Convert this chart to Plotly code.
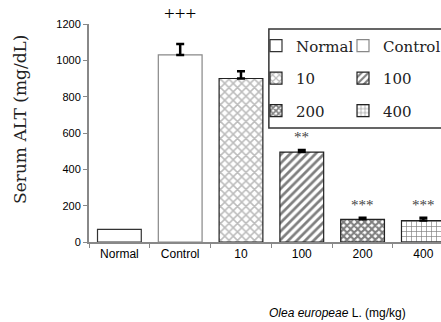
import plotly.graph_objects as go

categories = ["Normal", "Control", "10", "100", "200", "400"]
values = [70, 1030, 900, 495, 125, 118]
errors = [0, 60, 40, 12, 8, 15]
labels_sig = ["", "+++", "", "**", "***", "***"]
legend_ids = ["legend", "legend2", "legend", "legend2", "legend", "legend2"]

patterns = [
    dict(shape="", bgcolor="white"),
    dict(shape="", bgcolor="white"),
    dict(shape="x", fgcolor="#7a7a7a", bgcolor="white", size=6, solidity=0.45),
    dict(shape="/", fgcolor="black", bgcolor="white", size=6, solidity=0.45),
    dict(shape="x", fgcolor="black", bgcolor="white", size=5, solidity=0.65),
    dict(shape="+", fgcolor="black", bgcolor="white", size=5, solidity=0.25),
]
line_colors = ["#333333", "#888888", "#222222", "#222222", "#222222", "#222222"]

fig = go.Figure()
for i, c in enumerate(categories):
    fig.add_trace(go.Bar(
        x=[c], y=[values[i]], name=c, width=0.72,
        legend=legend_ids[i], legendgroup=c,
        marker=dict(color="white", pattern=patterns[i],
                    line=dict(color=line_colors[i], width=1.2)),
        error_y=dict(type="data", symmetric=False, array=[errors[i]], arrayminus=[0],
                     color="black", thickness=2.5, width=4, visible=errors[i] > 0),
        showlegend=True,
    ))

for i, c in enumerate(categories):
    if labels_sig[i]:
        plus = labels_sig[i] == "+++"
        fig.add_annotation(x=i, y=values[i] + errors[i], text=labels_sig[i], showarrow=False,
                           yanchor="bottom", yshift=18 if plus else 3,
                           font=dict(family="Liberation Serif",
                                     size=19 if plus else 15,
                                     color="black" if plus else "#444"))

fig.add_annotation(xref="paper", yref="paper", x=0.705, y=-0.326, xanchor="center", yanchor="middle",
                   text="<i>Olea europeae</i> L. (mg/kg)", showarrow=False,
                   font=dict(family="Liberation Sans", size=12, color="black"))

fig.add_annotation(xref="paper", yref="paper", x=-0.196, y=0.56, xanchor="center", yanchor="middle",
                   text="Serum ALT (mg/dL)", textangle=-90, showarrow=False,
                   font=dict(family="DejaVu Serif", size=17, color="#222"))

# legend frame
fig.add_shape(type="rect", xref="paper", yref="paper", x0=0.511, x1=1.3, y0=0.523, y1=0.977,
              line=dict(color="#333", width=1.5), fillcolor="white", layer="above")

leg_common = dict(orientation="v", yanchor="top", xanchor="left", y=0.975,
                  bgcolor="rgba(0,0,0,0)", borderwidth=0, tracegroupgap=10, itemwidth=30,
                  font=dict(family="DejaVu Serif", size=15, color="#222"))

fig.update_layout(
    width=441, height=322,
    margin=dict(l=89, r=0, t=24, b=80, autoexpand=False),
    plot_bgcolor="white", paper_bgcolor="white",
    barmode="overlay",
    showlegend=True,
    legend=dict(x=(256 - 89) / 352, **leg_common),
    legend2=dict(x=(343 - 89) / 352, **leg_common),
    xaxis=dict(type="category", categoryorder="array", categoryarray=categories,
               range=[-0.5, 5.29], showline=True, linecolor="#888", linewidth=2,
               ticks="outside", tickson="boundaries", ticklen=4, tickcolor="#888",
               automargin=False,
               tickfont=dict(family="Liberation Sans", size=12, color="black")),
    yaxis=dict(range=[0, 1200], dtick=200, showline=True, linecolor="#888", linewidth=2,
               ticks="outside", ticklen=4, tickcolor="#888", showgrid=False, zeroline=False,
               automargin=False,
               tickfont=dict(family="Liberation Sans", size=11, color="black")),
)

fig.write_html("out.html", config={"displayModeBar": False},
               post_script="document.body.style.margin='0';")
